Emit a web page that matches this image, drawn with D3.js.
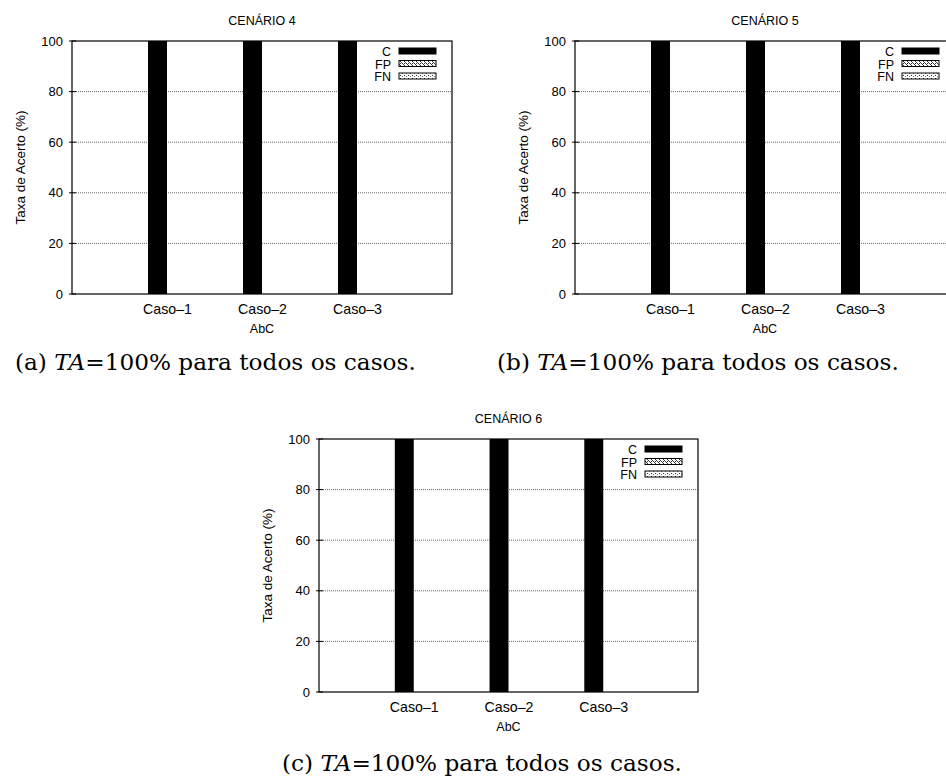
<!DOCTYPE html>
<html><head><meta charset="utf-8">
<script src="https://cdn.jsdelivr.net/npm/d3@7"></script>
<style>body{margin:0;background:#fff}svg{display:block}</style>
</head><body>
<script>
const categories = ["Caso–1", "Caso–2", "Caso–3"];
const seriesNames = ["C", "FP", "FN"];
const cen4C = [100, 100, 100], cen4FP = [0, 0, 0], cen4FN = [0, 0, 0];
const cen5C = [100, 100, 100], cen5FP = [0, 0, 0], cen5FN = [0, 0, 0];
const cen6C = [100, 100, 100], cen6FP = [0, 0, 0], cen6FN = [0, 0, 0];
const yTicks = [0, 20, 40, 60, 80, 100];
const titles = ["CENÁRIO 4", "CENÁRIO 5", "CENÁRIO 6"];
const captionLetters = ["(a)", "(b)", "(c)"];
const captionRest = "=100% para todos os casos.";
const yLabel = "Taxa de Acerto (%)";
const xLabel = "AbC";

const W = 946, H = 778;
const svg = d3.select("body").append("svg").attr("width", W).attr("height", H);
const defs = svg.append("defs");
const hatch = defs.append("pattern").attr("id", "hatchFP").attr("patternUnits", "userSpaceOnUse")
  .attr("width", 4).attr("height", 4);
hatch.append("rect").attr("width", 4).attr("height", 4).attr("fill", "#fff");
hatch.append("path").attr("d", "M-1,1 L1,3 M0,0 L4,4 M3,-1 L5,1").attr("stroke", "#000").attr("stroke-width", 0.8);
const dots = defs.append("pattern").attr("id", "dotsFN").attr("patternUnits", "userSpaceOnUse")
  .attr("width", 4).attr("height", 3);
dots.append("rect").attr("width", 4).attr("height", 3).attr("fill", "#fff");
dots.append("rect").attr("x", 0).attr("y", 1).attr("width", 1).attr("height", 1).attr("fill", "#333");
dots.append("rect").attr("x", 2).attr("y", 2).attr("width", 1).attr("height", 1).attr("fill", "#777");

const fills = {C: "#000", FP: "url(#hatchFP)", FN: "url(#dotsFN)"};
const font = "'Liberation Sans', Arial, Helvetica, sans-serif";

const panels = [
  {left: 72, top: 41, width: 380, height: 253, data: [cen4C, cen4FP, cen4FN], capX: 15, capY: 370},
  {left: 575, top: 41, width: 380, height: 253, data: [cen5C, cen5FP, cen5FN], capX: 497, capY: 370},
  {left: 319, top: 439, width: 379, height: 253, data: [cen6C, cen6FP, cen6FN], capX: 282, capY: 771}
];

panels.forEach((p, pi) => {
  const g = svg.append("g").attr("transform", `translate(${p.left},${p.top})`);
  const x = d3.scaleLinear().domain([-1, 3]).range([0, p.width]);
  const y = d3.scaleLinear().domain([0, 100]).range([p.height, 0]);
  const bw = 0.2;

  g.selectAll(".grid").data(yTicks.filter(t => t > 0 && t < 100)).enter().append("line")
    .attr("x1", 0).attr("x2", p.width).attr("y1", d => y(d)).attr("y2", d => y(d))
    .attr("stroke", "#666").attr("stroke-width", 1).attr("stroke-dasharray", "1,1");

  const yAxis = d3.axisLeft(y).tickValues(yTicks).tickSize(0).tickPadding(9);
  const ya = g.append("g").call(yAxis);
  ya.select(".domain").remove();
  ya.selectAll("text").attr("font-family", font).attr("font-size", 13).attr("fill", "#000");
  g.selectAll(".ytk").data(yTicks).enter().append("line")
    .attr("x1", -3).attr("x2", 4).attr("y1", d => y(d)).attr("y2", d => y(d))
    .attr("stroke", "#000");

  const xAxis = d3.axisBottom(x).tickValues(d3.range(categories.length)).tickFormat(i => categories[i])
    .tickSize(0).tickPadding(10);
  const xa = g.append("g").attr("transform", `translate(0,${p.height})`).call(xAxis);
  xa.select(".domain").remove();
  xa.selectAll("text").attr("font-family", font).attr("font-size", 14.2).attr("fill", "#000");

  seriesNames.forEach((s, si) => {
    g.selectAll(".bar" + s).data(p.data[si]).enter().append("rect")
      .attr("x", (d, i) => x(i - bw + si * bw))
      .attr("width", x(bw) - x(0))
      .attr("y", d => y(d))
      .attr("height", d => y(0) - y(d))
      .attr("fill", fills[s])
      .attr("stroke", "#000").attr("stroke-width", s === "C" ? 0 : 1);
  });

  g.append("rect").attr("x", 0).attr("y", 0).attr("width", p.width).attr("height", p.height)
    .attr("fill", "none").attr("stroke", "#000").attr("stroke-width", 1.2);

  seriesNames.forEach((s, si) => {
    const by = 15 + si * 12.5;
    g.append("text").attr("x", p.width - 61).attr("y", by).attr("text-anchor", "end")
      .attr("font-family", font).attr("font-size", 12.5).text(s);
    g.append("rect").attr("x", p.width - 53).attr("y", by - 8).attr("width", 37).attr("height", 6)
      .attr("fill", fills[s]).attr("stroke", "#000").attr("stroke-width", 1);
  });

  g.append("text").attr("x", p.width / 2).attr("y", -16).attr("text-anchor", "middle")
    .attr("font-family", font).attr("font-size", 12.5).text(titles[pi]);
  g.append("text").attr("x", p.width / 2).attr("y", p.height + 39).attr("text-anchor", "middle")
    .attr("font-family", font).attr("font-size", 12.5).text(xLabel);
  g.append("text").attr("transform", `translate(-47,${p.height / 2}) rotate(-90)`).attr("text-anchor", "middle")
    .attr("font-family", font).attr("font-size", 13.5).text(yLabel);

  const cap = svg.append("text").attr("x", p.capX).attr("y", p.capY)
    .attr("font-family", "'DejaVu Serif', 'Liberation Serif', serif").attr("font-size", 23.2);
  cap.append("tspan").text(captionLetters[pi] + " ");
  cap.append("tspan").attr("font-style", "italic").text("TA");
  cap.append("tspan").text(captionRest);
});
</script>
</body></html>
